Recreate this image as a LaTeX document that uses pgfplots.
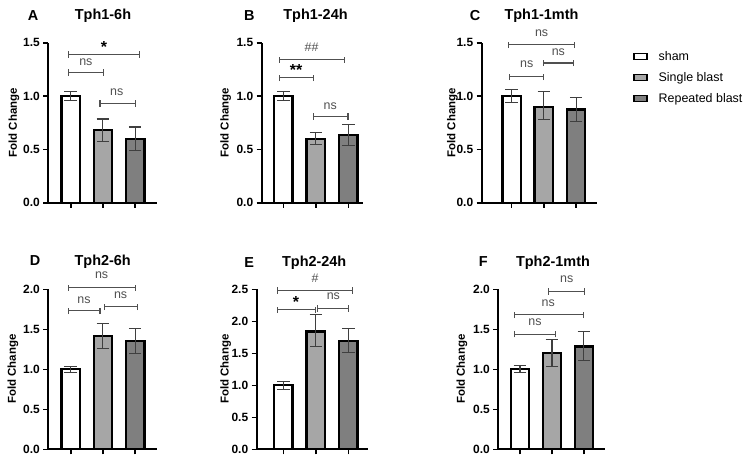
\documentclass[border=0pt]{standalone}
\usepackage{fontspec}
\setmainfont{Liberation Sans}
\usepackage{pgfplots}
\pgfplotsset{compat=1.18}
\definecolor{sgl}{HTML}{A6A6A6}
\definecolor{rep}{HTML}{7F7F7F}
\definecolor{errc}{HTML}{3F3F3F}
\definecolor{brc}{HTML}{505050}

\pgfplotsset{
 panel/.style={
  scale only axis, height=160bp,
  axis x line*=bottom, axis y line*=left,
  axis line style={line width=1.8bp},
  every tick/.style={line width=1.6bp, black},
  tick align=outside, major tick length=5bp,
  xtick={0,1,2}, xticklabels={},
  ymin=0, clip=false,
  yticklabel style={font=\bfseries\fontsize{12}{14}\selectfont},
 },
 sbar/.style={ybar, bar shift=0pt, bar width=18.5bp, draw=black, line width=2.3bp},
 serr/.style={draw=none, mark=none, forget plot,
   error bars/y dir=both, error bars/y explicit,
   error bars/error mark=|,
   error bars/error bar style={line width=1.1bp, errc, solid},
   error bars/error mark options={line width=1.1bp, errc, mark size=6.3bp, solid}},
 toprow/.style={ymax=1.5, ytick={0,0.5,1,1.5}, yticklabels={0.0,0.5,1.0,1.5}},
 botrow/.style={ymax=2, ytick={0,0.5,1,1.5,2}, yticklabels={0.0,0.5,1.0,1.5,2.0}},
}
\newcommand\brk[3]{%
 \draw[brc, line width=1.1bp] (axis cs:#1,#3) -- (axis cs:#2,#3);
 \draw[brc, line width=1.1bp] ([yshift=-3.2bp]axis cs:#1,#3) -- ([yshift=3.2bp]axis cs:#1,#3);
 \draw[brc, line width=1.1bp] ([yshift=-3.2bp]axis cs:#2,#3) -- ([yshift=3.2bp]axis cs:#2,#3);}
\newcommand\lab[3]{\node[brc, font=\fontsize{12.5}{14}\selectfont] at (axis cs:#1,#2) {#3};}
\newcommand\sig[3]{\node[black, font=\bfseries\fontsize{16}{18}\selectfont, yshift=-3.5bp] at (axis cs:#1,#2) {#3};}
\tikzset{ttl/.style={font=\bfseries\fontsize{14.5}{16}\selectfont},
 ylab/.style={font=\bfseries\fontsize{11.5}{13}\selectfont, rotate=90}}

\begin{document}
\begin{tikzpicture}
\path[use as bounding box] (0,0) rectangle (753bp,-466bp);

% A
\begin{axis}[panel, toprow, at={(48.3bp,-202.7bp)}, anchor=south west,
  width=108.7bp, xmin=-0.696, xmax=2.68]
\addplot[sbar, fill=white] coordinates {(0,1.00)};
\addplot[sbar, fill=sgl] coordinates {(1,0.68)};
\addplot[sbar, fill=rep] coordinates {(2,0.60)};
\addplot[serr] coordinates {(0,1.00) +- (0,0.04) (1,0.68) +- (0,0.105) (2,0.60) +- (0,0.11)};
\brk{-0.07}{2.13}{1.39}\sig{1.03}{1.49}{*}
\brk{-0.07}{1.01}{1.22}\lab{0.47}{1.32}{ns}
\brk{0.91}{2.0}{0.93}\lab{1.43}{1.04}{ns}
\end{axis}

% B
\begin{axis}[panel, toprow, at={(261.7bp,-202.7bp)}, anchor=south west,
  width=101.3bp, xmin=-0.665, xmax=2.45]
\addplot[sbar, fill=white] coordinates {(0,1.00)};
\addplot[sbar, fill=sgl] coordinates {(1,0.60)};
\addplot[sbar, fill=rep] coordinates {(2,0.635)};
\addplot[serr] coordinates {(0,1.00) +- (0,0.04) (1,0.60) +- (0,0.058) (2,0.635) +- (0,0.10)};
\brk{-0.13}{1.87}{1.34}\lab{0.87}{1.46}{\#\#}
\brk{-0.13}{0.92}{1.17}\sig{0.39}{1.275}{**}
\brk{0.92}{1.99}{0.81}\lab{1.44}{0.906}{ns}
\end{axis}

% C
\begin{axis}[panel, toprow, at={(481.7bp,-202.7bp)}, anchor=south west,
  width=115.6bp, xmin=-0.932, xmax=2.66,
  legend image code/.code={\draw[#1,/tikz/.cd,line width=1.9bp] (0bp,-3bp) rectangle (13bp,3bp);},
  legend style={draw=none, fill=none, at={(axis description cs:1.305,0.965)}, anchor=north west,
   font=\fontsize{12.5}{14}\selectfont, row sep=5bp, column sep=9bp, inner sep=0pt,
   nodes={inner sep=2bp, text height=9.5bp, text depth=2.5bp}},
  legend cell align=left]
\addplot[sbar, fill=white] coordinates {(0,1.00)};
\addlegendentry{sham}
\addplot[sbar, fill=sgl] coordinates {(1,0.90)};
\addlegendentry{Single blast}
\addplot[sbar, fill=rep] coordinates {(2,0.875)};
\addlegendentry{Repeated blast}
\addplot[serr] coordinates {(0,1.00) +- (0,0.06) (1,0.91) +- (0,0.13) (2,0.875) +- (0,0.115)};
\brk{-0.1}{1.94}{1.48}\lab{0.93}{1.59}{ns}
\brk{0.99}{1.92}{1.31}\lab{1.45}{1.41}{ns}
\brk{-0.07}{1.0}{1.18}\lab{0.47}{1.30}{ns}
\end{axis}

% D
\begin{axis}[panel, botrow, at={(48.3bp,-449.3bp)}, anchor=south west,
  width=108.7bp, xmin=-0.696, xmax=2.68]
\addplot[sbar, fill=white] coordinates {(0,1.00)};
\addplot[sbar, fill=sgl] coordinates {(1,1.415)};
\addplot[sbar, fill=rep] coordinates {(2,1.355)};
\addplot[serr] coordinates {(0,1.00) +- (0,0.035) (1,1.415) +- (0,0.16) (2,1.355) +- (0,0.16)};
\brk{-0.07}{2.0}{2.02}\lab{0.96}{2.17}{ns}
\brk{-0.07}{0.91}{1.73}\lab{0.41}{1.86}{ns}
\brk{1.05}{2.08}{1.78}\lab{1.55}{1.93}{ns}
\end{axis}

% E
\begin{axis}[panel, ymax=2.5, ytick={0,0.5,1,1.5,2,2.5}, yticklabels={0.0,0.5,1.0,1.5,2.0,2.5},
  at={(256.7bp,-449.3bp)}, anchor=south west,
  width=111.6bp, xmin=-0.82, xmax=2.615]
\addplot[sbar, fill=white] coordinates {(0,1.00)};
\addplot[sbar, fill=sgl] coordinates {(1,1.84)};
\addplot[sbar, fill=rep] coordinates {(2,1.69)};
\addplot[serr] coordinates {(0,1.00) +- (0,0.065) (1,1.85) +- (0,0.25) (2,1.70) +- (0,0.19)};
\brk{-0.17}{2.13}{2.48}\lab{0.98}{2.68}{\#}
\brk{-0.17}{0.98}{2.18}\sig{0.39}{2.35}{*}
\brk{1.05}{2.0}{2.20}\lab{1.54}{2.39}{ns}
\end{axis}

% F
\begin{axis}[panel, botrow, at={(498.3bp,-449.3bp)}, anchor=south west,
  width=106.7bp, xmin=-0.68, xmax=2.66]
\addplot[sbar, fill=white] coordinates {(0,1.00)};
\addplot[sbar, fill=sgl] coordinates {(1,1.20)};
\addplot[sbar, fill=rep] coordinates {(2,1.285)};
\addplot[serr] coordinates {(0,1.00) +- (0,0.045) (1,1.205) +- (0,0.165) (2,1.29) +- (0,0.177)};
\brk{0.9}{2.01}{1.975}\lab{1.46}{2.13}{ns}
\brk{-0.18}{1.98}{1.68}\lab{0.885}{1.83}{ns}
\brk{-0.18}{1.11}{1.44}\lab{0.47}{1.59}{ns}
\end{axis}

% titles
\node[ttl] at (33bp,-16bp) {A};
\node[ttl] at (103bp,-16bp) {Tph1-6h};
\node[ttl] at (249.3bp,-16bp) {B};
\node[ttl] at (315.5bp,-16bp) {Tph1-24h};
\node[ttl] at (475bp,-16bp) {C};
\node[ttl] at (541.5bp,-16bp) {Tph1-1mth};
\node[ttl] at (35bp,-260.5bp) {D};
\node[ttl] at (102.7bp,-262bp) {Tph2-6h};
\node[ttl] at (249.3bp,-262.5bp) {E};
\node[ttl] at (314.2bp,-263bp) {Tph2-24h};
\node[ttl] at (483.3bp,-261.7bp) {F};
\node[ttl] at (553bp,-263bp) {Tph2-1mth};
% y labels
\node[ylab] at (14bp,-122.7bp) {Fold Change};
\node[ylab] at (225.8bp,-122.7bp) {Fold Change};
\node[ylab] at (452.5bp,-122.7bp) {Fold Change};
\node[ylab] at (13bp,-369bp) {Fold Change};
\node[ylab] at (225.8bp,-369bp) {Fold Change};
\node[ylab] at (462bp,-369bp) {Fold Change};
\end{tikzpicture}
\end{document}
